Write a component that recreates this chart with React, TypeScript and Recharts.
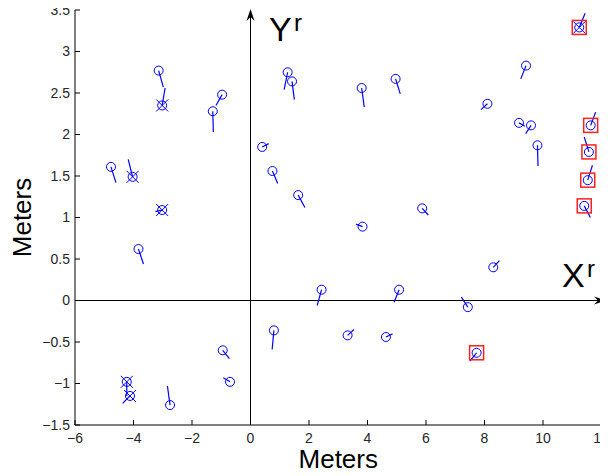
import { ScatterChart, Scatter, XAxis, YAxis, ReferenceLine, Label } from "recharts";

// robot positions (meters) and the tip of each heading stroke
const posX = [-4.77, -4.03, -3.14, -3.02, -3.02, -1.29, -0.97, 0.4, 0.75, 1.27, 1.42, 1.63, 3.8, 4.96, 3.83, 5.87, 8.1, 9.42, 9.18, 9.59, 9.81, 11.24, 11.63, 11.57, 11.53, 11.41, -3.83, 0.8, -0.95, -0.7, -4.23, -4.12, -2.75, 2.43, 5.08, 8.3, 7.43, 3.32, 4.63, 7.73];
const posY = [1.61, 1.49, 2.77, 2.35, 1.09, 2.28, 2.48, 1.85, 1.56, 2.75, 2.64, 1.27, 2.56, 2.67, 0.89, 1.11, 2.37, 2.83, 2.14, 2.11, 1.87, 3.29, 2.11, 1.79, 1.45, 1.14, 0.62, -0.36, -0.6, -0.98, -0.98, -1.15, -1.26, 0.13, 0.13, 0.4, -0.08, -0.42, -0.44, -0.63];
const headX = [-4.6, -4.18, -2.98, -2.92, -3.25, -1.27, -1.18, 0.62, 0.93, 1.15, 1.5, 1.86, 3.89, 5.12, 3.61, 6.08, 7.88, 9.24, 9.38, 9.41, 9.83, 11.44, 11.8, 11.41, 11.69, 11.62, -3.66, 0.74, -0.72, -0.93, -4.23, -4.37, -2.84, 2.28, 4.91, 8.51, 7.21, 3.54, 4.86, 7.5];
const headY = [1.42, 1.7, 2.57, 2.56, 1.07, 2.03, 2.35, 1.89, 1.41, 2.54, 2.42, 1.12, 2.33, 2.49, 0.92, 1.03, 2.3, 2.67, 2.1, 2.01, 1.62, 3.46, 2.27, 1.97, 1.63, 1.0, 0.44, -0.59, -0.7, -0.93, -1.15, -1.24, -1.03, -0.06, -0.02, 0.48, 0.04, -0.35, -0.4, -0.73];
const crossedIdx = [1, 3, 4, 21, 30, 31];
const boxedIdx = [21, 22, 23, 24, 25, 39];

const xTicks = [-6, -4, -2, 0, 2, 4, 6, 8, 10, 12];
const yTicks = [-1.5, -1, -0.5, 0, 0.5, 1, 1.5, 2, 2.5, 3, 3.5];

const points = posX.map((x, i) => ({
  x,
  y: posY[i],
  crossed: crossedIdx.includes(i),
  boxed: boxedIdx.includes(i),
}));

const BLUE = "#0000ff";
const FONT = "'Liberation Sans', Arial, sans-serif";

const fmt = (v: number) => String(v).replace("-", "\u2212");

const Marker = (props: any) => {
  const { cx, cy, payload } = props;
  return (
    <g>
      <circle cx={cx} cy={cy} r={4.5} fill="none" stroke={BLUE} strokeWidth={1} />
      {payload.crossed && (
        <g stroke={BLUE} strokeWidth={1}>
          <line x1={cx - 6} y1={cy - 6} x2={cx + 6} y2={cy + 6} />
          <line x1={cx - 6} y1={cy + 6} x2={cx + 6} y2={cy - 6} />
        </g>
      )}
      {payload.boxed && (
        <rect x={cx - 7} y={cy - 7} width={14} height={14} fill="none" stroke="#ff2020" strokeWidth={1.5} />
      )}
    </g>
  );
};

// axis arrow drawn a few pixels past the end of the segment, with its X^r / Y^r label
const arrowShape = (name: string, extra: number) => (props: any) => {
  const { x1, y1 } = props;
  const len = Math.hypot(props.x2 - x1, props.y2 - y1) || 1;
  const ux = (props.x2 - x1) / len;
  const uy = (props.y2 - y1) / len;
  const x2 = props.x2 + ux * extra;
  const y2 = props.y2 + uy * extra;
  const px = -uy;
  const py = ux;
  const head = [
    [x2, y2],
    [x2 - ux * 12 + px * 4, y2 - uy * 12 + py * 4],
    [x2 - ux * 8, y2 - uy * 8],
    [x2 - ux * 12 - px * 4, y2 - uy * 12 - py * 4],
  ]
    .map((p) => p.join(","))
    .join(" ");
  const isY = name === "Y";
  const tx = isY ? x2 + 18.5 : x2 - 44;
  const ty = isY ? y2 + 32 : y2 - 13.5;
  return (
    <g>
      <line x1={x1} y1={y1} x2={x2 - ux * 8} y2={y2 - uy * 8} stroke="#000" strokeWidth={1} />
      <polygon points={head} fill="#000" />
      <text x={tx} y={ty} fontSize={34} fontFamily={FONT} fill="#000">
        {name}
      </text>
      <text x={tx + 25} y={ty - 10} fontSize={24} fontFamily={FONT} fill="#000">
        r
      </text>
    </g>
  );
};

export default function App() {
  return (
    <div style={{ fontFamily: FONT, margin: "-8px 0 0 -8px" }}>
      <ScatterChart width={608} height={476} margin={{ top: 10, right: 6.5, left: 15, bottom: 11 }}>
        <XAxis
          type="number"
          dataKey="x"
          domain={[-6, 12]}
          ticks={xTicks}
          allowDataOverflow
          tickFormatter={fmt}
          tickSize={-5}
          tickMargin={13}
          height={40}
          stroke="#000"
          tick={{ fill: "#262626", fontSize: 14, fontFamily: FONT }}
        >
          <Label
            content={(p: any) => {
              const vb = p.viewBox;
              return (
                <text x={vb.x + vb.width / 2} y={vb.y + 43} textAnchor="middle" fontSize={26} fontFamily={FONT} fill="#000">
                  Meters
                </text>
              );
            }}
          />
        </XAxis>
        <YAxis
          type="number"
          dataKey="y"
          domain={[-1.5, 3.5]}
          ticks={yTicks}
          allowDataOverflow
          tickFormatter={fmt}
          tickSize={-5}
          tickMargin={10}
          width={60}
          stroke="#000"
          tick={{ fill: "#262626", fontSize: 14, fontFamily: FONT }}
        >
          <Label
            content={(p: any) => {
              const vb = p.viewBox;
              const x = vb.x + 16;
              const y = vb.y + vb.height / 2;
              return (
                <text x={x} y={y} transform={`rotate(-90, ${x}, ${y})`} textAnchor="middle" fontSize={26} fontFamily={FONT} fill="#000">
                  Meters
                </text>
              );
            }}
          />
        </YAxis>
        <ReferenceLine segment={[{ x: -6, y: 0 }, { x: 12, y: 0 }]} shape={arrowShape("X", 4.5)} />
        <ReferenceLine segment={[{ x: 0, y: -1.5 }, { x: 0, y: 3.5 }]} shape={arrowShape("Y", 1)} />
        {posX.map((x, i) => (
          <ReferenceLine
            key={i}
            segment={[{ x, y: posY[i] }, { x: headX[i], y: headY[i] }]}
            stroke={BLUE}
            strokeWidth={1.2}
          />
        ))}
        <Scatter data={points} shape={<Marker />} isAnimationActive={false} />
      </ScatterChart>
    </div>
  );
}
